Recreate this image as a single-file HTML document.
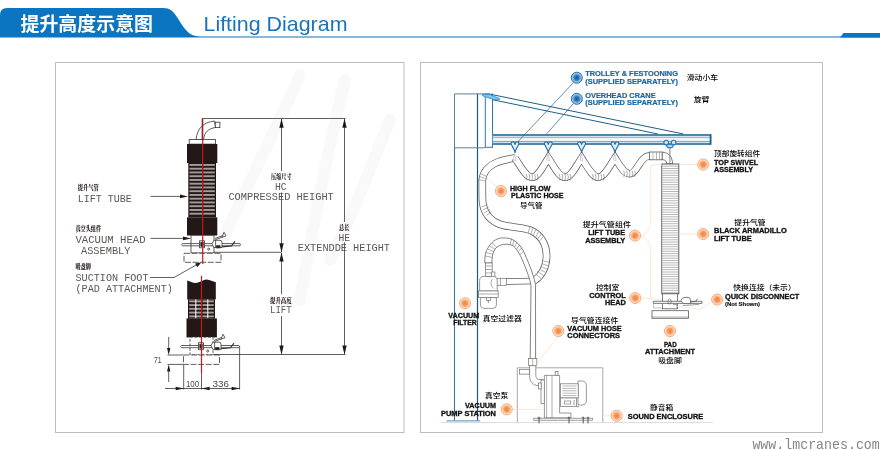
<!DOCTYPE html>
<html lang="zh">
<head>
<meta charset="utf-8">
<title>提升高度示意图 Lifting Diagram</title>
<style>
html,body{margin:0;padding:0;background:#fff;}
body{width:880px;height:450px;overflow:hidden;position:relative;}
svg{position:absolute;left:0;top:0;display:block;will-change:transform;}
text{white-space:pre;}
.h-cn{font-family:"Liberation Sans","Noto Sans CJK SC",sans-serif;font-weight:700;font-size:19px;fill:#fff;}
.h-en{font-family:"Liberation Sans",sans-serif;font-size:20.8px;fill:#1b74bb;}
.l-cn{font-family:"Liberation Serif","Noto Serif CJK SC",serif;font-weight:900;font-size:6.3px;fill:#231815;}
.l-en{font-family:"Liberation Mono",monospace;font-size:10.2px;fill:#5a5654;}
.l-num{font-family:"Liberation Sans",sans-serif;font-size:8.2px;fill:#4a4644;}
.r-bl{font-family:"Liberation Sans",sans-serif;font-weight:700;font-size:7.1px;fill:#1a67a3;stroke:#1a67a3;stroke-width:0.2px;}
.r-en{font-family:"Liberation Sans",sans-serif;font-weight:700;font-size:7px;fill:#111;stroke:#111;stroke-width:0.3px;}
.r-sm{font-family:"Liberation Sans",sans-serif;font-weight:700;font-size:5.6px;fill:#111;stroke:#111;stroke-width:0.15px;}
.r-cn{font-family:"Liberation Sans","Noto Sans CJK SC",sans-serif;font-weight:500;font-size:7.1px;fill:#000;}
.url{font-family:"Liberation Mono",monospace;font-size:13.2px;fill:#858585;}
</style>
</head>
<body>
<svg width="880" height="450" viewBox="0 0 880 450">
<defs>
<radialGradient id="og" cx="50%" cy="50%" r="50%">
<stop offset="0" stop-color="#f3843a"/><stop offset="0.4" stop-color="#f59655"/><stop offset="0.66" stop-color="#f9c19a"/><stop offset="0.85" stop-color="#fcdcc6"/><stop offset="1" stop-color="#fde0cc"/>
</radialGradient>
<radialGradient id="bg" cx="50%" cy="50%" r="50%">
<stop offset="0" stop-color="#13599a"/><stop offset="0.4" stop-color="#2c79b8"/><stop offset="0.72" stop-color="#7db6e0"/><stop offset="1" stop-color="#b5d6f0"/>
</radialGradient>
</defs>
<g id="header">
<path d="M0,37.5 L0,15 Q0,8 7,8 L163,8 C170,8 173,11 177,17 C184,28 188,36.4 200,36.4 L880,36.4 L880,37.5 Z" fill="#0b75c1"/>
<path d="M840,37.5 L843.5,33 L880,33 L880,37.5 Z" fill="#0b75c1"/>
<text x="20.5" y="30.8" class="h-cn" textLength="132.5" lengthAdjust="spacingAndGlyphs" >提升高度示意图</text>
<text x="203.5" y="30.5" class="h-en" textLength="144" lengthAdjust="spacingAndGlyphs" >Lifting Diagram</text>
</g>
<rect x="55.5" y="62.5" width="348.5" height="370" fill="#fff" stroke="#bdbdbd" stroke-width="1"/>
<rect x="420.5" y="62.5" width="402" height="370" fill="#fff" stroke="#bdbdbd" stroke-width="1"/>
<g id="left">
<g fill="none" stroke="#f9f9f9" stroke-width="12" stroke-linecap="round">
<path d="M300,75 C280,120 250,180 225,235" />
<path d="M345,80 C330,140 315,215 300,300" />
<path d="M390,120 C370,170 350,220 330,260" />
</g>
<g stroke="#3a3533" stroke-width="0.8" fill="none">
<line x1="202.5" y1="118.5" x2="345.5" y2="118.5" />
<line x1="214" y1="252.3" x2="281.5" y2="252.3" />
<line x1="213" y1="354.5" x2="345.5" y2="354.5" />
<line x1="281.5" y1="119" x2="281.5" y2="171" />
<line x1="281.5" y1="192.5" x2="281.5" y2="252" />
<line x1="281.5" y1="253" x2="281.5" y2="294" />
<line x1="281.5" y1="316" x2="281.5" y2="354" />
<line x1="344.5" y1="119" x2="344.5" y2="222" />
<line x1="344.5" y1="242.5" x2="344.5" y2="354" />
<line x1="150.5" y1="196.4" x2="182" y2="196.4" />
<line x1="150.5" y1="238.4" x2="184" y2="238.4" />
<path d="M150,277.5 L174,277.5 L197,264.5" />
<line x1="168.7" y1="337" x2="168.7" y2="350" />
<line x1="168.7" y1="369" x2="168.7" y2="382" />
<line x1="167.5" y1="355" x2="183.5" y2="355" />
<line x1="167.5" y1="364.4" x2="183.5" y2="364.4" />
<line x1="165" y1="388.5" x2="240" y2="388.5" />
<line x1="183.7" y1="364.4" x2="183.7" y2="389.5" />
<line x1="201.5" y1="373.5" x2="201.5" y2="389.5" />
<line x1="239.6" y1="346" x2="239.6" y2="389.5" />
</g>
<polygon points="281.5,118.7 279.3,127.7 283.7,127.7" fill="#231815"/>
<polygon points="344.5,118.7 342.3,127.7 346.7,127.7" fill="#231815"/>
<polygon points="281.5,252.2 279.3,243.2 283.7,243.2" fill="#231815"/>
<polygon points="281.5,252.6 279.3,261.6 283.7,261.6" fill="#231815"/>
<polygon points="281.5,354.4 279.3,345.4 283.7,345.4" fill="#231815"/>
<polygon points="344.5,354.4 342.3,345.4 346.7,345.4" fill="#231815"/>
<polygon points="188,196.4 180,194.6 180,198.20000000000002" fill="#231815"/>
<polygon points="191,238.4 183,236.6 183,240.20000000000002" fill="#231815"/>
<polygon points="201.5,262.3 195.2,263.6 197.2,267.2" fill="#231815"/>
<polygon points="168.7,355 167.0,348 170.39999999999998,348" fill="#231815"/>
<polygon points="168.7,364.4 167.0,371.4 170.39999999999998,371.4" fill="#231815"/>
<polygon points="183.7,388.5 175.7,386.8 175.7,390.2" fill="#231815"/>
<polygon points="201.6,388.5 209.6,386.8 209.6,390.2" fill="#231815"/>
<polygon points="239.6,388.5 231.6,386.8 231.6,390.2" fill="#231815"/>
<g stroke="#3a3533" stroke-width="0.8" fill="#fff">
<path d="M196,139.5 C197.5,128 203,122.5 214.5,121 L215.5,127.5 C208.5,128.5 204.5,132 203.5,139.5 Z" />
<rect x="215.3" y="122.2" width="4.6" height="5.4" />
<rect x="189.2" y="139.5" width="26.4" height="4.6" />
</g>
<rect x="187" y="144" width="30.3" height="19" fill="#231815"/>
<rect x="188.3" y="163" width="27.69999999999999" height="54.30000000000001" fill="#231815"/>
<rect x="189.5" y="164.0" width="25.3" height="1.9" fill="#a19d9b"/>
<rect x="189.5" y="167.75" width="25.3" height="1.9" fill="#a19d9b"/>
<rect x="189.5" y="171.5" width="25.3" height="1.9" fill="#a19d9b"/>
<rect x="189.5" y="175.25" width="25.3" height="1.9" fill="#a19d9b"/>
<rect x="189.5" y="179.0" width="25.3" height="1.9" fill="#a19d9b"/>
<rect x="189.5" y="182.75" width="25.3" height="1.9" fill="#a19d9b"/>
<rect x="189.5" y="186.5" width="25.3" height="1.9" fill="#a19d9b"/>
<rect x="189.5" y="190.25" width="25.3" height="1.9" fill="#a19d9b"/>
<rect x="189.5" y="194.0" width="25.3" height="1.9" fill="#a19d9b"/>
<rect x="189.5" y="197.75" width="25.3" height="1.9" fill="#a19d9b"/>
<rect x="189.5" y="201.5" width="25.3" height="1.9" fill="#a19d9b"/>
<rect x="189.5" y="205.25" width="25.3" height="1.9" fill="#a19d9b"/>
<rect x="189.5" y="209.0" width="25.3" height="1.9" fill="#a19d9b"/>
<rect x="189.5" y="212.75" width="25.3" height="1.9" fill="#a19d9b"/>
<line x1="202.75" y1="163" x2="202.75" y2="217.3" stroke="#231815" stroke-width="0.8"/>
<rect x="187" y="217.3" width="30.3" height="18.2" fill="#231815"/>
<g stroke="#3a3533" stroke-width="0.8" fill="#fff">
<path d="M182.5,243.60000000000002 L240,243.60000000000002 L240.6,244.70000000000002 L240,245.8 L182.5,245.8 Q180.5,244.70000000000002 182.5,243.60000000000002 Z"/>
<rect x="191" y="235.3" width="23" height="17.6"/>
<path d="M191,243.60000000000002 L214,243.60000000000002 M191,245.8 L214,245.8" fill="none"/>
<rect x="199.6" y="240.8" width="4.8" height="7"/>
<rect x="200.8" y="242.3" width="2.4" height="4" fill="#231815"/>
<path d="M212,243.8 L213.8,240.3 L220,240.3 Q222,240.3 222,242.3 L222,247.5 L213.8,247.5 Z"/>
<path d="M215.6,240.3 L215.6,247.5" fill="none"/>
<rect x="216.5" y="245.70000000000002" width="3.6" height="2.2" fill="#231815"/>
<circle cx="208.7" cy="249.10000000000002" r="1"/>
<path d="M215,238.5 L222.5,235.60000000000002 M215.4,239.70000000000002 L223,236.8" fill="none"/>
<path d="M222,237.10000000000002 L224,232.3 L226,235.9 Z"/>
<path d="M222,246.9 L231.5,245.9 L235,241.3" fill="none" stroke-width="1.1"/>
</g>
<rect x="184" y="253.3" width="37" height="9" fill="#fff" stroke="#3a3533" stroke-width="0.8" stroke-dasharray="6 1.6"/>
<line x1="202.7" y1="118.5" x2="202.7" y2="264" stroke="#c8161d" stroke-width="1.2"/>
<line x1="202.2" y1="118.5" x2="202.2" y2="140" stroke="#7a1a1a" stroke-width="1.0"/>
<path d="M187.2,299.5 L187.2,280.5 C190,281.5 193,283.2 196,283 C200,282.7 203,279.6 206.5,279.5 C210,279.6 213,281.6 215.8,282.3 L215.8,299.5 Z" fill="#231815"/>
<rect x="188" y="299.4" width="27" height="19.200000000000045" fill="#231815"/>
<rect x="189.2" y="300.4" width="24.6" height="1.9" fill="#a19d9b"/>
<rect x="189.2" y="304.15" width="24.6" height="1.9" fill="#a19d9b"/>
<rect x="189.2" y="307.9" width="24.6" height="1.9" fill="#a19d9b"/>
<rect x="189.2" y="311.65" width="24.6" height="1.9" fill="#a19d9b"/>
<rect x="189.2" y="315.4" width="24.6" height="1.9" fill="#a19d9b"/>
<rect x="195.3" y="299.4" width="1.0" height="19.200000000000045" fill="#fff"/>
<rect x="207.3" y="299.4" width="1.0" height="19.200000000000045" fill="#fff"/>
<line x1="202.1" y1="299.4" x2="202.1" y2="318.6" stroke="#231815" stroke-width="0.8"/>
<rect x="186.5" y="318.4" width="30.4" height="19" fill="#231815"/>
<g stroke="#3a3533" stroke-width="0.8" fill="#fff">
<path d="M181.5,345.5 L239,345.5 L239.6,346.59999999999997 L239,347.7 L181.5,347.7 Q179.5,346.59999999999997 181.5,345.5 Z"/>
<rect x="190" y="337.2" width="23" height="17.6" stroke-dasharray="3 1.5"/>
<path d="M190,345.5 L213,345.5 M190,347.7 L213,347.7" fill="none"/>
<rect x="198.6" y="342.7" width="4.8" height="7"/>
<rect x="199.8" y="344.2" width="2.4" height="4" fill="#231815"/>
<path d="M211,345.7 L212.8,342.2 L219,342.2 Q221,342.2 221,344.2 L221,349.4 L212.8,349.4 Z"/>
<path d="M214.6,342.2 L214.6,349.4" fill="none"/>
<rect x="215.5" y="347.59999999999997" width="3.6" height="2.2" fill="#231815"/>
<circle cx="207.7" cy="351.0" r="1"/>
<path d="M214,340.4 L221.5,337.5 M214.4,341.59999999999997 L222,338.7" fill="none"/>
<path d="M221,339.0 L223,334.2 L225,337.8 Z"/>
<path d="M221,348.8 L230.5,347.8 L234,343.2" fill="none" stroke-width="1.1"/>
</g>
<rect x="183.5" y="355" width="36" height="9.4" fill="#fff" stroke="#3a3533" stroke-width="0.8" stroke-dasharray="6 1.6"/>
<line x1="201.5" y1="275.8" x2="201.5" y2="373.5" stroke="#c8161d" stroke-width="1.2"/>
<text x="77.8" y="190" class="l-cn" textLength="21" lengthAdjust="spacingAndGlyphs" >提升气管</text>
<text x="77.8" y="201.7" class="l-en" textLength="54" lengthAdjust="spacingAndGlyphs" >LIFT TUBE</text>
<text x="75.5" y="231.2" class="l-cn" textLength="25.5" lengthAdjust="spacingAndGlyphs" >真空头组件</text>
<text x="75.5" y="243" class="l-en" textLength="70" lengthAdjust="spacingAndGlyphs" >VACUUM HEAD</text>
<text x="81" y="253.6" class="l-en" textLength="49.5" lengthAdjust="spacingAndGlyphs" >ASSEMBLY</text>
<text x="75.5" y="269.3" class="l-cn" textLength="15.5" lengthAdjust="spacingAndGlyphs" >吸盘脚</text>
<text x="75.5" y="281" class="l-en" textLength="73" lengthAdjust="spacingAndGlyphs" >SUCTION FOOT</text>
<text x="75.5" y="291.7" class="l-en" textLength="97.3" lengthAdjust="spacingAndGlyphs" >(PAD ATTACHMENT)</text>
<text x="271" y="179.2" class="l-cn" textLength="20.5" lengthAdjust="spacingAndGlyphs" >压缩尺寸</text>
<text x="275" y="190" class="l-en" textLength="11.7" lengthAdjust="spacingAndGlyphs" >HC</text>
<text x="228.4" y="200.1" class="l-en" textLength="105.4" lengthAdjust="spacingAndGlyphs" >COMPRESSED HEIGHT</text>
<text x="339" y="229.8" class="l-cn" textLength="10.3" lengthAdjust="spacingAndGlyphs" >总长</text>
<text x="338.4" y="240.5" class="l-en" textLength="11.6" lengthAdjust="spacingAndGlyphs" >HE</text>
<text x="297.8" y="251" class="l-en" textLength="92.2" lengthAdjust="spacingAndGlyphs" >EXTENDDE HEIGHT</text>
<text x="270" y="302.5" class="l-cn" textLength="21.7" lengthAdjust="spacingAndGlyphs" >提升高度</text>
<text x="270" y="313.3" class="l-en" textLength="21.7" lengthAdjust="spacingAndGlyphs" >LIFT</text>
<text x="154" y="363" class="l-num" textLength="7.7" lengthAdjust="spacingAndGlyphs" style="font-size:9.4px">71</text>
<text x="186" y="387.2" class="l-num" textLength="13" lengthAdjust="spacingAndGlyphs" >100</text>
<text x="212.5" y="387.2" class="l-num" textLength="16.5" lengthAdjust="spacingAndGlyphs" >336</text>
</g>
<g id="right">
<line x1="441" y1="422.6" x2="713" y2="422.6" stroke="#cfcfcf" stroke-width="0.8"/>
<g fill="none" stroke="#1d5f8a" stroke-width="1">
<path d="M454.5,421 L454.5,93.9 L490,93.9" stroke="#5c8199"/>
<line x1="477.5" y1="93.9" x2="477.5" y2="421" stroke="#1d5875" stroke-width="1.2"/>
<line x1="454.5" y1="148" x2="454.5" y2="421" stroke="#3a789a" stroke-width="1.1"/>
<line x1="454.5" y1="147.8" x2="485" y2="147.8" stroke="#5c8199"/>
</g>
<line x1="446.5" y1="420.9" x2="480.2" y2="420.9" stroke="#6aa6d2" stroke-width="1.4"/>
<rect x="485.3" y="94.2" width="7.2" height="53.1" fill="#fff" stroke="#2a78b4" stroke-width="1"/>
<g stroke="#1d5f8a" stroke-width="1" fill="none">
<line x1="491" y1="94.4" x2="683.5" y2="134" />
<line x1="492" y1="99.6" x2="658" y2="134" />
</g>
<path d="M482,94.6 L489,94.4 L499.5,98.4 L499.3,99.8 L493,99.4 L483,96 Z" fill="#7fc4ee" stroke="#2d8fd0" stroke-width="0.8"/>
<rect x="492.8" y="134.2" width="218" height="10.4" fill="#edf4fa"/>
<g stroke="#1d5f8a" fill="none">
<line x1="492.8" y1="134.9" x2="711" y2="134.9" stroke-width="1.5"/>
<line x1="492.8" y1="137.3" x2="711" y2="137.3" stroke-width="0.7" stroke="#4f8cbb"/>
<line x1="492.8" y1="141.7" x2="711" y2="141.7" stroke-width="0.8" stroke="#3b7db1"/>
<line x1="492.8" y1="144" x2="711" y2="144" stroke-width="1.3"/>
<line x1="710.6" y1="134.2" x2="710.6" y2="144.7" stroke-width="1.8"/>
</g>
<g stroke="#1d5f8a" stroke-width="0.7" fill="none">
<line x1="573.5" y1="82.5" x2="512" y2="148" />
<line x1="573.5" y1="103.5" x2="546.5" y2="134" />
</g>
<path d="M506,281.5 L534,281" fill="none" stroke="#5a5a5a" stroke-width="6.6" stroke-linejoin="round"/>
<path d="M506,281.5 L534,281" fill="none" stroke="#fff" stroke-width="5.1" stroke-linejoin="round"/>
<path d="M515,158 C508,159 500,160.5 494.5,163.5 C487,167.5 482.6,173 482.3,181 L482.4,198 C482.5,210 487,218 497,223 C508,228.5 522,226 532,231 C542,236 547,246 546.5,258 C546,268 541,276 534,281" fill="none" stroke="#5a5a5a" stroke-width="7.6" stroke-linejoin="round"/>
<path d="M515,158 C508,159 500,160.5 494.5,163.5 C487,167.5 482.6,173 482.3,181 L482.4,198 C482.5,210 487,218 497,223 C508,228.5 522,226 532,231 C542,236 547,246 546.5,258 C546,268 541,276 534,281" fill="none" stroke="#fff" stroke-width="6.1" stroke-linejoin="round"/>
<path d="M515,158 C521.5,168 526,177.2 532,177.2 C538,177.2 542,168 548.3,158 C555,168 559,177.2 565,177.2 C571,177.2 575,168 581.6,158 C588,168 592.5,177.2 598.3,177.2 C604,177.2 608.5,168 615,158 C620,166 624,173.8 629.5,173.8 C637,173.8 640,156 649.5,155.9 L662,155.9" fill="none" stroke="#5a5a5a" stroke-width="7.4" stroke-linejoin="miter"/>
<path d="M515,158 C521.5,168 526,177.2 532,177.2 C538,177.2 542,168 548.3,158 C555,168 559,177.2 565,177.2 C571,177.2 575,168 581.6,158 C588,168 592.5,177.2 598.3,177.2 C604,177.2 608.5,168 615,158 C620,166 624,173.8 629.5,173.8 C637,173.8 640,156 649.5,155.9 L662,155.9" fill="none" stroke="#fff" stroke-width="6" stroke-linejoin="miter"/>
<path d="M662,152.2 C668.5,152.4 672.2,156.5 672.7,163.8 L666.8,163.8 C666.6,161 665,159.6 662,159.6 Z" fill="#fff" stroke="#5a5a5a" stroke-width="0.8"/>
<rect x="649.5" y="152" width="12.6" height="7.8" fill="#fff" stroke="#5a5a5a" stroke-width="0.8"/>
<g stroke="#8a8a8a" stroke-width="0.6">
<line x1="653" y1="152" x2="653" y2="159.8" />
<line x1="656.5" y1="152" x2="656.5" y2="159.8" />
<line x1="659.5" y1="152" x2="659.5" y2="159.8" />
</g>
<g stroke="#7a7a7a" stroke-width="0.6" fill="none">
<path d="M526.2,174.0 q1.6,3.2 0,6.4" />
<path d="M529.0,174.0 q1.6,3.2 0,6.4" />
<path d="M531.8000000000001,174.0 q1.6,3.2 0,6.4" />
<path d="M534.6,174.0 q1.6,3.2 0,6.4" />
<path d="M537.2,174.0 q1.6,3.2 0,6.4" />
<path d="M559.2,174.0 q1.6,3.2 0,6.4" />
<path d="M562.0,174.0 q1.6,3.2 0,6.4" />
<path d="M564.8000000000001,174.0 q1.6,3.2 0,6.4" />
<path d="M567.6,174.0 q1.6,3.2 0,6.4" />
<path d="M570.2,174.0 q1.6,3.2 0,6.4" />
<path d="M592.5,174.0 q1.6,3.2 0,6.4" />
<path d="M595.3,174.0 q1.6,3.2 0,6.4" />
<path d="M598.1,174.0 q1.6,3.2 0,6.4" />
<path d="M600.9,174.0 q1.6,3.2 0,6.4" />
<path d="M603.5,174.0 q1.6,3.2 0,6.4" />
<path d="M623.7,170.60000000000002 q1.6,3.2 0,6.4" />
<path d="M626.5,170.60000000000002 q1.6,3.2 0,6.4" />
<path d="M629.3000000000001,170.60000000000002 q1.6,3.2 0,6.4" />
<path d="M632.1,170.60000000000002 q1.6,3.2 0,6.4" />
<path d="M634.7,170.60000000000002 q1.6,3.2 0,6.4" />
<line x1="480.2" y1="173.5" x2="486.3" y2="176.2" />
<line x1="479.3" y1="176.5" x2="485.6" y2="178.6" />
<line x1="479" y1="179.6" x2="485.4" y2="181" />
<line x1="481.3" y1="207" x2="487.6" y2="204.6" />
<line x1="482.6" y1="210" x2="488.6" y2="207" />
<line x1="484.2" y1="213" x2="490" y2="209.4" />
<line x1="486.3" y1="215.6" x2="491.6" y2="211.6" />
<line x1="530" y1="226.4" x2="528" y2="233.4" />
<line x1="533" y1="227.6" x2="530.6" y2="234.6" />
<line x1="536" y1="229.3" x2="533" y2="236" />
<line x1="538.8" y1="231.3" x2="535.4" y2="237.6" />
<line x1="541.4" y1="233.6" x2="537.4" y2="239.4" />
<line x1="543.6" y1="236.2" x2="539.3" y2="241.4" />
<line x1="543" y1="260.8" x2="550" y2="262.6" />
<line x1="541.6" y1="263.6" x2="548.6" y2="266" />
<line x1="540.4" y1="266.4" x2="547.2" y2="269.2" />
<line x1="539" y1="269" x2="545.6" y2="272.4" />
<line x1="537.4" y1="271.6" x2="543.6" y2="275.4" />
<line x1="535.4" y1="274" x2="541" y2="278.4" />
</g>
<path d="M514.6,153.6 L513.4,160 L516.2,160.6 Z" fill="#fff" stroke="#a5a5a5" stroke-width="0.5"/>
<path d="M515,151.6 L511.6,145 A1.8,1.8 0 1 1 514.6,143.4 L515,144.4 L515.4,143.4 A1.8,1.8 0 1 1 518.4,145 Z" fill="#dcebf7" stroke="#1f6fa5" stroke-width="1.1" stroke-linejoin="round"/>
<line x1="515" y1="150.6" x2="515" y2="153" stroke="#1f6fa5" stroke-width="1.3"/>
<path d="M547.9,153.6 L546.6999999999999,160 L549.5,160.6 Z" fill="#fff" stroke="#a5a5a5" stroke-width="0.5"/>
<path d="M548.3,151.6 L544.9,145 A1.8,1.8 0 1 1 547.9,143.4 L548.3,144.4 L548.6999999999999,143.4 A1.8,1.8 0 1 1 551.6999999999999,145 Z" fill="#dcebf7" stroke="#1f6fa5" stroke-width="1.1" stroke-linejoin="round"/>
<line x1="548.3" y1="150.6" x2="548.3" y2="153" stroke="#1f6fa5" stroke-width="1.3"/>
<path d="M581.2,153.6 L580.0,160 L582.8000000000001,160.6 Z" fill="#fff" stroke="#a5a5a5" stroke-width="0.5"/>
<path d="M581.6,151.6 L578.2,145 A1.8,1.8 0 1 1 581.2,143.4 L581.6,144.4 L582.0,143.4 A1.8,1.8 0 1 1 585.0,145 Z" fill="#dcebf7" stroke="#1f6fa5" stroke-width="1.1" stroke-linejoin="round"/>
<line x1="581.6" y1="150.6" x2="581.6" y2="153" stroke="#1f6fa5" stroke-width="1.3"/>
<path d="M614.6,153.6 L613.4,160 L616.2,160.6 Z" fill="#fff" stroke="#a5a5a5" stroke-width="0.5"/>
<path d="M615,151.6 L611.6,145 A1.8,1.8 0 1 1 614.6,143.4 L615,144.4 L615.4,143.4 A1.8,1.8 0 1 1 618.4,145 Z" fill="#dcebf7" stroke="#1f6fa5" stroke-width="1.1" stroke-linejoin="round"/>
<line x1="615" y1="150.6" x2="615" y2="153" stroke="#1f6fa5" stroke-width="1.3"/>
<path d="M484.8,263 L484.8,259.5 C485,254 486,251 487.5,248.8 C490.5,243 495.5,238.3 501.7,238 C507,237.7 512,238.5 516,241.7 C520,245 523,249.5 524.8,254 C527.5,260.5 530,266 532,272 C534,278 535.3,282 535.5,286 L535.6,359 L530.2,359 L531,286 C530.5,282 529.5,279 528.4,275.5 C526.5,269.5 524,263.5 521.3,257.7 C519,253 516.5,248.5 513.3,246 C510.5,244.2 506.5,244 503.5,244.4 C499.5,245 496.2,247 494.6,249.7 C493,252.5 492.2,256 492,259.5 L492,263 Z" fill="#fff" stroke="#5a5a5a" stroke-width="0.75" stroke-linejoin="round"/>
<g stroke="#7a7a7a" stroke-width="0.6" fill="none">
<line x1="485.2" y1="256" x2="492.2" y2="257.4" />
<line x1="486" y1="252.4" x2="492.8" y2="254.4" />
<line x1="487.4" y1="249" x2="493.8" y2="251.6" />
<line x1="489.4" y1="245.8" x2="495.2" y2="249.2" />
<line x1="492" y1="243" x2="496.8" y2="247.2" />
<line x1="511.4" y1="238.6" x2="510.4" y2="244.4" />
<line x1="514.2" y1="240" x2="512.6" y2="245.4" />
<line x1="517" y1="242" x2="514.6" y2="247" />
<line x1="519.6" y1="244.6" x2="516.6" y2="249" />
<line x1="522" y1="247.6" x2="518.4" y2="251.4" />
<line x1="524" y1="251" x2="520" y2="254.4" />
</g>
<g stroke="#6f6f6f" stroke-width="0.7" fill="#fff">
<rect x="485.6" y="263" width="6.6" height="13.6" />
<line x1="485.6" y1="266" x2="492.2" y2="266" stroke-width="0.6"/>
<line x1="485.6" y1="269.5" x2="492.2" y2="269.5" stroke-width="0.6"/>
<line x1="485.6" y1="273" x2="492.2" y2="273" stroke-width="0.6"/>
<rect x="496.8" y="278.3" width="9.6" height="7" />
<line x1="500.5" y1="278.3" x2="500.5" y2="285.3" stroke-width="0.6"/>
<rect x="491.5" y="272" width="3.4" height="6.5" />
<path d="M479.6,291 L479.6,280.5 Q479.6,276.4 484,276.4 L493,276.4 Q497.2,276.4 497.2,280.5 L497.2,291 Z" />
<rect x="478.6" y="291" width="19.6" height="6.6" />
<line x1="478.6" y1="294" x2="498.2" y2="294" stroke-width="0.6"/>
<path d="M480.4,297.6 L480.4,305 Q480.4,308.4 484,308.4 L492.8,308.4 Q496.4,308.4 496.4,305 L496.4,297.6 Z" />
<path d="M486.4,297.6 L486.4,300.6 L490.4,300.6 L490.4,297.6 M488.4,300.6 L488.4,303" fill="none"/>
<path d="M492.5,279 C490.5,281 490.5,286 493.5,288.5" fill="none" stroke-width="0.6"/>
</g>
<g stroke="#858585" stroke-width="0.7" fill="none">
<path d="M517.3,422 L517.3,367.8 L602.8,367.8 L602.8,422" />
</g>
<g stroke="#6f6f6f" stroke-width="0.7" fill="#fff">
<rect x="528.4" y="358.6" width="8.4" height="7" />
<line x1="532.6" y1="358.6" x2="532.6" y2="365.6" stroke-width="0.5"/>
<path d="M529.6,365.6 L529.6,376 C529.6,381.5 533,385.6 539,385.8 L543,385.8 L543,379.6 L540,379.6 C537.2,379.6 535.8,378 535.8,375.4 L535.8,365.6 Z" />
<rect x="519.5" y="369.5" width="10" height="4.6" />
<rect x="541" y="380" width="3.6" height="23.4" />
<rect x="538.6" y="383" width="2.6" height="6" />
<path d="M544.4,375.4 L559.6,375.4 L559.6,413 L571,413 L571,417.8 L544.4,417.8 Z" />
<line x1="552" y1="375.4" x2="552" y2="417.8" stroke-width="0.6"/>
<line x1="546.6" y1="375.4" x2="546.6" y2="417.8" stroke-width="0.5"/>
<rect x="555.2" y="371.4" width="2.8" height="4" />
<path d="M578,381 L582,381 Q586.4,381 586.4,386 L586.4,400 Q586.4,405 582,405 L578,405 Z" />
<rect x="560.4" y="383.8" width="17.8" height="14.2" />
<line x1="562.5" y1="386" x2="576.5" y2="386" stroke-width="0.5"/>
<line x1="562.5" y1="388.4" x2="576.5" y2="388.4" stroke-width="0.5"/>
<line x1="562.5" y1="390.8" x2="576.5" y2="390.8" stroke-width="0.5"/>
<line x1="562.5" y1="393.2" x2="576.5" y2="393.2" stroke-width="0.5"/>
<line x1="562.5" y1="395.6" x2="576.5" y2="395.6" stroke-width="0.5"/>
<rect x="560.4" y="398" width="16" height="8.6" />
<rect x="564.6" y="401" width="6.2" height="3" stroke-width="0.6"/>
<path d="M574,400 L574,405 M576.4,406.6 L579,406.6" fill="none"/>
<rect x="533.8" y="418.2" width="58.6" height="2.0" />
</g>
<g stroke="#444" stroke-width="0.9">
<line x1="539" y1="416.6" x2="539" y2="423.4" />
<line x1="537.4" y1="418" x2="540.6" y2="418" stroke-width="0.6"/>
<line x1="569" y1="416.6" x2="569" y2="423.4" />
<line x1="567.4" y1="418" x2="570.6" y2="418" stroke-width="0.6"/>
<line x1="583.2" y1="416.6" x2="583.2" y2="423.4" />
<line x1="581.6" y1="418" x2="584.8000000000001" y2="418" stroke-width="0.6"/>
<line x1="588" y1="416.6" x2="588" y2="423.4" />
<line x1="586.4" y1="418" x2="589.6" y2="418" stroke-width="0.6"/>
</g>
<rect x="661.8" y="164" width="17" height="129.8" fill="#fff" stroke="#4a4a4a" stroke-width="0.9"/>
<g stroke="#a6a6a6" stroke-width="0.8">
<line x1="662.6" y1="166.2" x2="678" y2="166.2" />
<line x1="662.6" y1="168.5" x2="678" y2="168.5" />
<line x1="662.6" y1="170.8" x2="678" y2="170.8" />
<line x1="662.6" y1="173.1" x2="678" y2="173.1" />
<line x1="662.6" y1="175.4" x2="678" y2="175.4" />
<line x1="662.6" y1="177.7" x2="678" y2="177.7" />
<line x1="662.6" y1="180.0" x2="678" y2="180.0" />
<line x1="662.6" y1="182.3" x2="678" y2="182.3" />
<line x1="662.6" y1="184.6" x2="678" y2="184.6" />
<line x1="662.6" y1="186.9" x2="678" y2="186.9" />
<line x1="662.6" y1="189.2" x2="678" y2="189.2" />
<line x1="662.6" y1="191.5" x2="678" y2="191.5" />
<line x1="662.6" y1="193.8" x2="678" y2="193.8" />
<line x1="662.6" y1="196.1" x2="678" y2="196.1" />
<line x1="662.6" y1="198.4" x2="678" y2="198.4" />
<line x1="662.6" y1="200.7" x2="678" y2="200.7" />
<line x1="662.6" y1="203.0" x2="678" y2="203.0" />
<line x1="662.6" y1="205.3" x2="678" y2="205.3" />
<line x1="662.6" y1="207.6" x2="678" y2="207.6" />
<line x1="662.6" y1="209.9" x2="678" y2="209.9" />
<line x1="662.6" y1="212.2" x2="678" y2="212.2" />
<line x1="662.6" y1="214.5" x2="678" y2="214.5" />
<line x1="662.6" y1="216.8" x2="678" y2="216.8" />
<line x1="662.6" y1="219.1" x2="678" y2="219.1" />
<line x1="662.6" y1="221.4" x2="678" y2="221.4" />
<line x1="662.6" y1="223.7" x2="678" y2="223.7" />
<line x1="662.6" y1="226.0" x2="678" y2="226.0" />
<line x1="662.6" y1="228.3" x2="678" y2="228.3" />
<line x1="662.6" y1="230.6" x2="678" y2="230.6" />
<line x1="662.6" y1="232.9" x2="678" y2="232.9" />
<line x1="662.6" y1="235.2" x2="678" y2="235.2" />
<line x1="662.6" y1="237.5" x2="678" y2="237.5" />
<line x1="662.6" y1="239.8" x2="678" y2="239.8" />
<line x1="662.6" y1="242.1" x2="678" y2="242.1" />
<line x1="662.6" y1="244.4" x2="678" y2="244.4" />
<line x1="662.6" y1="246.7" x2="678" y2="246.7" />
<line x1="662.6" y1="249.0" x2="678" y2="249.0" />
<line x1="662.6" y1="251.3" x2="678" y2="251.3" />
<line x1="662.6" y1="253.6" x2="678" y2="253.6" />
<line x1="662.6" y1="255.9" x2="678" y2="255.9" />
<line x1="662.6" y1="258.2" x2="678" y2="258.2" />
<line x1="662.6" y1="260.5" x2="678" y2="260.5" />
<line x1="662.6" y1="262.8" x2="678" y2="262.8" />
<line x1="662.6" y1="265.1" x2="678" y2="265.1" />
<line x1="662.6" y1="267.4" x2="678" y2="267.4" />
<line x1="662.6" y1="269.7" x2="678" y2="269.7" />
<line x1="662.6" y1="272.0" x2="678" y2="272.0" />
<line x1="662.6" y1="274.3" x2="678" y2="274.3" />
<line x1="662.6" y1="276.6" x2="678" y2="276.6" />
<line x1="662.6" y1="278.9" x2="678" y2="278.9" />
<line x1="662.6" y1="281.2" x2="678" y2="281.2" />
<line x1="662.6" y1="283.5" x2="678" y2="283.5" />
<line x1="662.6" y1="285.8" x2="678" y2="285.8" />
<line x1="662.6" y1="288.1" x2="678" y2="288.1" />
<line x1="662.6" y1="290.4" x2="678" y2="290.4" />
<line x1="662.6" y1="292.7" x2="678" y2="292.7" />
</g>
<g stroke="#2a7ab8" stroke-width="1.1" fill="#cfe3f3">
<circle cx="666.2" cy="142.6" r="2.3"/><circle cx="673.6" cy="142.6" r="2.3"/>
<path d="M666,144.8 L673.8,144.8 L672,147.6 L668,147.6 Z" />
</g>
<line x1="669.9" y1="147.6" x2="669.9" y2="164" stroke="#777" stroke-width="0.9"/>
<g stroke="#5a5a5a" stroke-width="0.8" fill="#fff">
<rect x="662.4" y="293.8" width="15" height="15" />
<path d="M653.3,301.3 L702,301.3 L702,303.4 L653.3,303.4 Z" />
<path d="M653.6,303.4 L653.6,308 L662.4,308" fill="none" stroke="#9a9a9a" stroke-width="0.6"/>
<ellipse cx="669.6" cy="301.6" rx="1.6" ry="2.6" fill="none" stroke-width="0.6"/>
<path d="M681,300.5 Q682,297.4 685,297.4 L688,297.4 Q690.4,297.4 690.6,300.4 L690.6,303.6 L683,303.6 Z" />
<path d="M690.6,302 L696,301.4 L697.4,298.6" fill="none"/>
<path d="M683,305.6 L699,304.4" fill="none" stroke-width="0.6"/>
<path d="M673,304.6 L677,304.6 L677,308.6" fill="none" stroke-width="0.6"/>
<rect x="652" y="310.7" width="36.6" height="7.6" />
<line x1="652" y1="317" x2="688.6" y2="317" stroke-width="0.5"/>
</g>
<line x1="497" y1="187.2" x2="483" y2="174.5" stroke="#c9c9c9" stroke-width="0.6" stroke-dasharray="1.2 0.8"/>
<g stroke="#fadcc6" stroke-width="0.7" fill="none">
<line x1="678.8" y1="164.5" x2="698" y2="164.5" />
<line x1="678.8" y1="234" x2="698" y2="234" />
<path d="M662,164.7 L654.5,164.7 Q650.4,164.7 650.4,169 L650.4,222 Q650.4,232 641,235.6" />
<path d="M641,236 Q650.6,239 650.6,250 L650.6,298.6" />
<path d="M641,298 L662,299.4" />
<path d="M711.5,302 L700,309.3 L677,306.4" />
<line x1="558.3" y1="336" x2="536.6" y2="364.5" />
<line x1="512.5" y1="409.5" x2="541" y2="409.5" />
<line x1="602.8" y1="415.8" x2="611" y2="415.8" />
</g>
<circle cx="576.8" cy="77.7" r="5.5" fill="url(#bg)" stroke="#1a5f98" stroke-width="0.9"/>
<circle cx="576.8" cy="98.8" r="5.5" fill="url(#bg)" stroke="#1a5f98" stroke-width="0.9"/>
<circle cx="501" cy="191.1" r="5.6" fill="url(#og)" stroke="#ee9f69" stroke-width="0.8"/>
<circle cx="635" cy="235.6" r="5.6" fill="url(#og)" stroke="#ee9f69" stroke-width="0.8"/>
<circle cx="635.3" cy="298" r="5.6" fill="url(#og)" stroke="#ee9f69" stroke-width="0.8"/>
<circle cx="703.2" cy="164.5" r="5.6" fill="url(#og)" stroke="#ee9f69" stroke-width="0.8"/>
<circle cx="703.2" cy="234" r="5.6" fill="url(#og)" stroke="#ee9f69" stroke-width="0.8"/>
<circle cx="717.2" cy="299.6" r="5.6" fill="url(#og)" stroke="#ee9f69" stroke-width="0.8"/>
<circle cx="670" cy="331" r="5.6" fill="url(#og)" stroke="#ee9f69" stroke-width="0.8"/>
<circle cx="465" cy="303.3" r="5.6" fill="url(#og)" stroke="#ee9f69" stroke-width="0.8"/>
<circle cx="558.3" cy="331" r="5.6" fill="url(#og)" stroke="#ee9f69" stroke-width="0.8"/>
<circle cx="506.7" cy="409.3" r="5.6" fill="url(#og)" stroke="#ee9f69" stroke-width="0.8"/>
<circle cx="616.7" cy="415.8" r="5.6" fill="url(#og)" stroke="#ee9f69" stroke-width="0.8"/>
<text x="585.2" y="76.3" class="r-bl" textLength="92.8" lengthAdjust="spacingAndGlyphs" >TROLLEY &amp; FESTOONING</text>
<text x="585.2" y="83.6" class="r-bl" textLength="92.8" lengthAdjust="spacingAndGlyphs" >(SUPPLIED SEPARATELY)</text>
<text x="585.2" y="97.8" class="r-bl" textLength="70.5" lengthAdjust="spacingAndGlyphs" >OVERHEAD CRANE</text>
<text x="585.2" y="105.4" class="r-bl" textLength="92.8" lengthAdjust="spacingAndGlyphs" >(SUPPLIED SEPARATELY)</text>
<text x="686.8" y="80.4" class="r-cn" textLength="31.2" lengthAdjust="spacingAndGlyphs" >滑动小车</text>
<text x="694" y="101.8" class="r-cn" textLength="15.3" lengthAdjust="spacingAndGlyphs" >旋臂</text>
<text x="510" y="191" class="r-en" textLength="40.5" lengthAdjust="spacingAndGlyphs" >HIGH FLOW</text>
<text x="511" y="198.2" class="r-en" textLength="52.6" lengthAdjust="spacingAndGlyphs" >PLASTIC HOSE</text>
<text x="519.9" y="208" class="r-cn" textLength="22.5" lengthAdjust="spacingAndGlyphs" >导气管</text>
<text x="714" y="155.6" class="r-cn" textLength="46.2" lengthAdjust="spacingAndGlyphs" >顶部旋转组件</text>
<text x="714" y="164.8" class="r-en" textLength="44.2" lengthAdjust="spacingAndGlyphs" >TOP SWIVEL</text>
<text x="714" y="171.6" class="r-en" textLength="39" lengthAdjust="spacingAndGlyphs" >ASSEMBLY</text>
<text x="582.7" y="226.6" class="r-cn" textLength="48.3" lengthAdjust="spacingAndGlyphs" >提升气管组件</text>
<text x="625.2" y="235" class="r-en" text-anchor="end" textLength="37" lengthAdjust="spacingAndGlyphs" >LIFT TUBE</text>
<text x="625.2" y="242.6" class="r-en" text-anchor="end" textLength="40" lengthAdjust="spacingAndGlyphs" >ASSEMBLY</text>
<text x="734.3" y="225.4" class="r-cn" textLength="31.4" lengthAdjust="spacingAndGlyphs" >提升气管</text>
<text x="714" y="232.7" class="r-en" textLength="72.7" lengthAdjust="spacingAndGlyphs" >BLACK ARMADILLO</text>
<text x="714" y="240.6" class="r-en" textLength="37.7" lengthAdjust="spacingAndGlyphs" >LIFT TUBE</text>
<text x="596" y="290" class="r-cn" textLength="23.3" lengthAdjust="spacingAndGlyphs" >控制室</text>
<text x="625.7" y="298.3" class="r-en" text-anchor="end" textLength="36.4" lengthAdjust="spacingAndGlyphs" >CONTROL</text>
<text x="625.7" y="305" class="r-en" text-anchor="end" textLength="20.7" lengthAdjust="spacingAndGlyphs" >HEAD</text>
<text x="733.3" y="290.4" class="r-cn" textLength="62.4" lengthAdjust="spacingAndGlyphs" >快换连接（未示）</text>
<text x="725" y="299.3" class="r-en" textLength="74.3" lengthAdjust="spacingAndGlyphs" >QUICK DISCONNECT</text>
<text x="725" y="305.6" class="r-sm" textLength="35" lengthAdjust="spacingAndGlyphs" >(Not Shown)</text>
<text x="670.3" y="346.7" class="r-en" text-anchor="middle" textLength="12.8" lengthAdjust="spacingAndGlyphs" >PAD</text>
<text x="670" y="354" class="r-en" text-anchor="middle" textLength="50" lengthAdjust="spacingAndGlyphs" >ATTACHMENT</text>
<text x="658.3" y="362.8" class="r-cn" textLength="23.4" lengthAdjust="spacingAndGlyphs" >吸盘脚</text>
<text x="448.3" y="317.7" class="r-en" textLength="31" lengthAdjust="spacingAndGlyphs" >VACUUM</text>
<text x="453.3" y="325" class="r-en" textLength="23.4" lengthAdjust="spacingAndGlyphs" >FILTER</text>
<text x="482.7" y="320.8" class="r-cn" textLength="39" lengthAdjust="spacingAndGlyphs" >真空过滤器</text>
<text x="571" y="322.8" class="r-cn" textLength="47.3" lengthAdjust="spacingAndGlyphs" >导气管连接件</text>
<text x="567.3" y="331" class="r-en" textLength="54.4" lengthAdjust="spacingAndGlyphs" >VACUUM HOSE</text>
<text x="567.3" y="338.3" class="r-en" textLength="52.7" lengthAdjust="spacingAndGlyphs" >CONNECTORS</text>
<text x="485" y="397.8" class="r-cn" textLength="23.3" lengthAdjust="spacingAndGlyphs" >真空泵</text>
<text x="496" y="408.3" class="r-en" text-anchor="end" textLength="31" lengthAdjust="spacingAndGlyphs" >VACUUM</text>
<text x="496" y="415.7" class="r-en" text-anchor="end" textLength="55" lengthAdjust="spacingAndGlyphs" >PUMP STATION</text>
<text x="650" y="409.6" class="r-cn" textLength="23.3" lengthAdjust="spacingAndGlyphs" >静音箱</text>
<text x="627.7" y="419" class="r-en" textLength="75.6" lengthAdjust="spacingAndGlyphs" >SOUND ENCLOSURE</text>
</g>
<text transform="translate(752.4,448.8) scale(1,1.06)" class="url" textLength="127.4" lengthAdjust="spacingAndGlyphs">www.lmcranes.com</text>
</svg>
</body>
</html>
